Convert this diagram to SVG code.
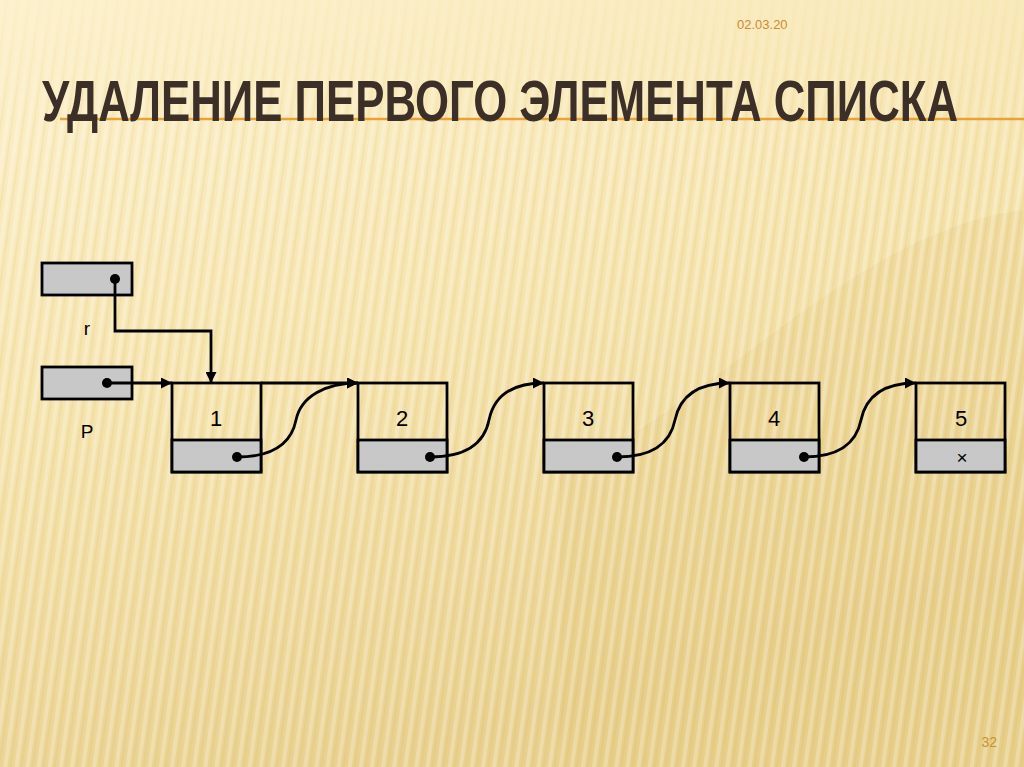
<svg xmlns="http://www.w3.org/2000/svg" width="1024" height="767" viewBox="0 0 1024 767">
  <defs>
    <linearGradient id="bg" x1="0" y1="0" x2="0.35" y2="1">
      <stop offset="0" stop-color="#fdf1cc"/>
      <stop offset="0.5" stop-color="#f6e4ad"/>
      <stop offset="1" stop-color="#e9d08e"/>
    </linearGradient>
    <pattern id="stripes" width="11" height="767" patternUnits="userSpaceOnUse" patternTransform="rotate(8)">
      <rect x="0" y="0" width="4" height="767" fill="#ffffff" opacity="0.28"/>
      <rect x="6" y="0" width="2" height="767" fill="#c9a95a" opacity="0.10"/>
    </pattern>
    <linearGradient id="stripeFade" x1="0" y1="0" x2="0" y2="1">
      <stop offset="0" stop-color="#fff" stop-opacity="0.2"/>
      <stop offset="0.2" stop-color="#fff" stop-opacity="1"/>
      <stop offset="1" stop-color="#fff" stop-opacity="0.9"/>
    </linearGradient>
    <mask id="stripeMask">
      <rect width="1024" height="767" fill="url(#stripeFade)"/>
    </mask>
    <marker id="arrow" viewBox="0 0 10 10" refX="10" refY="5" markerWidth="11" markerHeight="11" markerUnits="userSpaceOnUse" orient="auto">
      <path d="M0,0 L10,5 L0,10 Z" fill="#000"/>
    </marker>
    <style>
      .box { fill: none; stroke: #000; stroke-width: 2.8; }
      .cell { fill: #c8c8c8; stroke: #000; stroke-width: 2.8; }
      .lbl { font-family: "Liberation Sans", Arial, sans-serif; font-size: 22px; fill: #000; text-anchor: middle; }
      .var { font-family: "Liberation Sans", Arial, sans-serif; font-size: 19px; fill: #000; text-anchor: middle; }
      .link { fill: none; stroke: #000; stroke-width: 2.8; }
      .title { font-family: "Liberation Sans", Arial, sans-serif; font-weight: bold; font-size: 57px; fill: #3b2f27; }
    </style>
  </defs>

  <!-- background -->
  <rect width="1024" height="767" fill="url(#bg)"/>
  <path d="M560,767 L560,470 C700,420 850,230 1024,210 L1024,767 Z" fill="#e3c77d" opacity="0.25"/>
  <rect width="1024" height="767" fill="url(#stripes)" mask="url(#stripeMask)"/>

  <!-- header -->
  <text x="737" y="29" font-family="Liberation Sans, Arial, sans-serif" font-size="13" fill="#d08a33">02.03.20</text>
  <line x1="60" y1="119" x2="1024" y2="119" stroke="#e8a23c" stroke-width="2.5"/>
  <text class="title" x="0" y="0" transform="translate(42,121) scale(0.768,1)">УДАЛЕНИЕ ПЕРВОГО ЭЛЕМЕНТА СПИСКА</text>
  <text x="997" y="747" font-family="Liberation Sans, Arial, sans-serif" font-size="14" fill="#c8952e" text-anchor="end">32</text>

  <!-- pointer r -->
  <g id="ptr-r">
    <rect class="cell" x="42" y="263" width="90" height="32"/>
    <circle cx="115" cy="279" r="5" fill="#000"/>
    <text class="var" x="87" y="335">r</text>
  </g>

  <!-- pointer P -->
  <g id="ptr-p">
    <rect class="cell" x="42" y="367" width="90" height="32"/>
    <circle cx="107" cy="383" r="5" fill="#000"/>
    <text class="var" x="87" y="438">P</text>
  </g>

  <!-- nodes -->
  <g id="node1">
    <rect class="box" x="172" y="383" width="89" height="89"/>
    <rect class="cell" x="172" y="440" width="89" height="32"/>
    <text class="lbl" x="216" y="426">1</text>
    <circle cx="237" cy="457" r="5" fill="#000"/>
  </g>
  <g id="node2">
    <rect class="box" x="358" y="383" width="89" height="89"/>
    <rect class="cell" x="358" y="440" width="89" height="32"/>
    <text class="lbl" x="402" y="426">2</text>
    <circle cx="430" cy="457" r="5" fill="#000"/>
  </g>
  <g id="node3">
    <rect class="box" x="544" y="383" width="89" height="89"/>
    <rect class="cell" x="544" y="440" width="89" height="32"/>
    <text class="lbl" x="588" y="426">3</text>
    <circle cx="617" cy="457" r="5" fill="#000"/>
  </g>
  <g id="node4">
    <rect class="box" x="730" y="383" width="89" height="89"/>
    <rect class="cell" x="730" y="440" width="89" height="32"/>
    <text class="lbl" x="774" y="426">4</text>
    <circle cx="804" cy="457" r="5" fill="#000"/>
  </g>
  <g id="node5">
    <rect class="box" x="916" y="383" width="89" height="89"/>
    <rect class="cell" x="916" y="440" width="89" height="32"/>
    <text class="lbl" x="961" y="426">5</text>
    <text class="var" x="962" y="464" font-size="22">×</text>
  </g>

  <!-- connectors -->
  <g id="connectors">
    <path class="link" d="M115,279 V331 H211 V383" marker-end="url(#arrow)"/>
    <path class="link" d="M107,383 H172" marker-end="url(#arrow)"/>
    <path class="link" d="M261,383 H358" marker-end="url(#arrow)"/>
    <path class="link" d="M237,457 C270,457 291,445 296,420 C301,396 326,383 358,383" marker-end="url(#arrow)"/>
    <path class="link" d="M430,457 C463,457 484,445 489,420 C494,396 512,383 544,383" marker-end="url(#arrow)"/>
    <path class="link" d="M617,457 C650,457 670,445 675,420 C680,396 698,383 730,383" marker-end="url(#arrow)"/>
    <path class="link" d="M804,457 C837,457 856,445 861,420 C866,396 884,383 916,383" marker-end="url(#arrow)"/>
  </g>
</svg>
